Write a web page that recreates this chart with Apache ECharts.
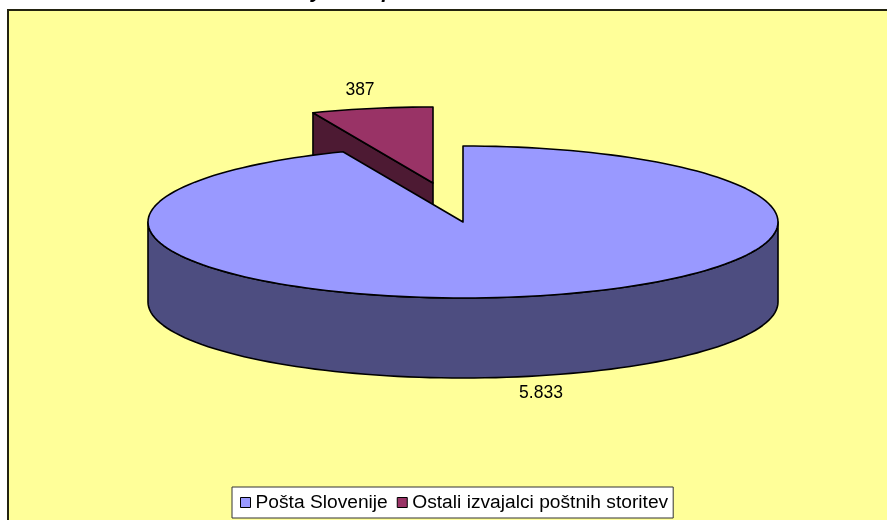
<!DOCTYPE html>
<html>
<head>
<meta charset="utf-8">
<style>html,body{margin:0;padding:0;background:#fff}#c{width:887px;height:520px}</style>
<script src="https://cdn.jsdelivr.net/npm/echarts@6/dist/echarts.min.js"></script>
</head>
<body>
<div id="c"></div>
<script>
var categories = ['Pošta Slovenije', 'Ostali izvajalci poštnih storitev'];
var values = [5833, 387];
var labels = ['5.833', '387'];
var topColors = ['#9999FF', '#993366'];
var sideColors = ['#4D4D80', '#4D1A33'];

var FONT = '"Liberation Sans", Arial, sans-serif';
var CX = 463, CY = 222, RX = 315, RY = 76, DEPTH = 80;
var total = values.reduce(function (a, b) { return a + b; }, 0);
var EXPLODE = [[0, 0], [-30, -39]];
var LABEL_AT = [[541, 393], [360, 90]];

function pt(theta, ox, oy, drop) {
  var r = theta * Math.PI / 180;
  return [CX + ox + RX * Math.sin(r), CY + oy - RY * Math.cos(r) + (drop || 0)];
}
function arc(a, b, ox, oy, drop) {
  var out = [], n = Math.max(2, Math.ceil(Math.abs(b - a) / 2));
  for (var i = 0; i <= n; i++) out.push(pt(a + (b - a) * i / n, ox, oy, drop));
  return out;
}
var edge = { stroke: '#000', lineWidth: 1.6, lineJoin: 'round' };
function poly(points, fill, z) {
  return { type: 'polygon', z2: z, shape: { points: points }, style: Object.assign({ fill: fill }, edge) };
}

function makeRender(index) {
  return function (params, api) {
    var v = api.value(0);
    var before = 0;
    for (var i = 0; i < index; i++) before += values[i];
    var start = before / total * 360, end = (before + v) / total * 360;
    var ox = EXPLODE[index][0], oy = EXPLODE[index][1];
    var apex = [CX + ox, CY + oy];
    var children = [];
    if (index === 1) {
      var rim = pt(start, ox, oy);
      children.push(poly([apex, rim, [rim[0], rim[1] + DEPTH], [apex[0], apex[1] + DEPTH]], sideColors[index], 1));
    } else {
      var wallA = Math.max(start, 90), wallB = Math.min(end, 270);
      children.push(poly(arc(wallA, wallB, ox, oy, 0).concat(arc(wallB, wallA, ox, oy, DEPTH)), sideColors[index], 1));
    }
    children.push(poly([apex].concat(arc(start, end, ox, oy, 0)), topColors[index], 2));
    children.push({
      type: 'text', z2: 3,
      style: { text: labels[index], x: LABEL_AT[index][0], y: LABEL_AT[index][1], align: 'center', verticalAlign: 'middle',
        font: '17.5px ' + FONT, fill: '#000' }
    });
    return { type: 'group', children: children };
  };
}

var chart = echarts.init(document.getElementById('c'), null, { renderer: 'canvas' });
chart.setOption({
  animation: false,
  backgroundColor: '#fff',
  graphic: [
    { type: 'rect', z: -10, shape: { x: 8, y: 10, width: 920, height: 560 },
      style: { fill: '#FFFF99', stroke: '#23230f', lineWidth: 2 } },
    { type: 'text', z: 10, style: { text: 'y', x: 311, y: 3, font: 'italic bold 21px ' + FONT, fill: '#000', verticalAlign: 'bottom' } },
    { type: 'text', z: 10, style: { text: 'p', x: 382, y: 3, font: 'italic bold 21px ' + FONT, fill: '#000', verticalAlign: 'bottom' } }
  ],
  legend: {
    show: true,
    left: 232, top: 487,
    padding: [6, 5, 6, 8],
    backgroundColor: '#fff',
    borderColor: '#333',
    borderWidth: 1,
    borderRadius: 0,
    itemWidth: 10, itemHeight: 10, itemGap: 9,
    icon: 'rect',
    itemStyle: { borderColor: '#000', borderWidth: 1 },
    textStyle: { fontFamily: FONT, fontSize: 19.2, color: '#000' },
    data: categories
  },
  series: [1, 0].map(function (i) {
    return {
      type: 'custom',
      name: categories[i],
      coordinateSystem: 'none',
      silent: true,
      z: i === 1 ? 2 : 3,
      itemStyle: { color: topColors[i] },
      renderItem: makeRender(i),
      data: [[values[i]]]
    };
  })
});
</script>
</body>
</html>
